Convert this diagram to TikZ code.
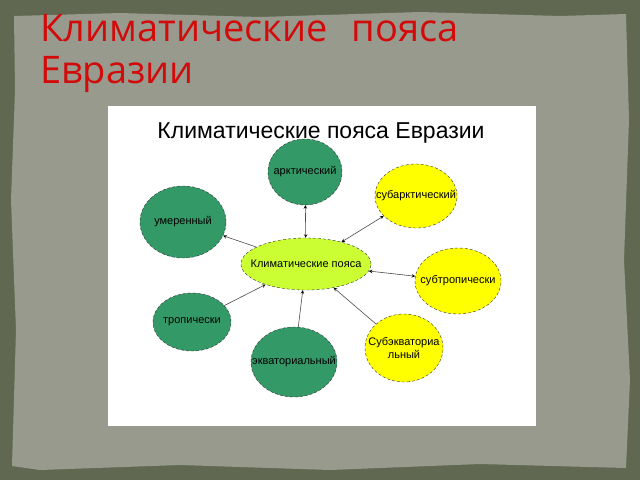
\documentclass[tikz,border=0pt]{standalone}
\usepackage{fontspec}
\setmainfont{Liberation Sans}
\newfontfamily\headfont{Open Sans}
\usetikzlibrary{shapes.geometric,arrows}
\definecolor{olive}{RGB}{96,104,82}
\definecolor{paper}{RGB}{152,154,142}
\definecolor{titlered}{RGB}{210,10,10}
\definecolor{zonegreen}{RGB}{51,153,102}
\definecolor{zoneyellow}{RGB}{255,255,0}
\definecolor{hubgreen}{RGB}{204,255,51}
\begin{document}
\begin{tikzpicture}[x=1pt,y=-1pt]
    \tikzstyle{link} = [draw=black!70,semithick,-stealth]
       \tikzset{zone/.style = {ellipse, draw=black!80, densely dashed, inner sep=0pt, label={[font=\fontsize{11}{13}\selectfont, align=center]center:#1}}, }
       \tikzset{cold/.style = {zone=#1, fill=zonegreen}, }
       \tikzset{warm/.style = {zone=#1, fill=zoneyellow}, }
       \tikzset{heading/.style = {anchor=base west, text=titlered, font=\headfont\fontsize{38}{44}\selectfont, inner sep=0pt}, }
       \useasboundingbox (0,0) rectangle (640,480);
       % background
       \fill[olive] (0,0) rectangle (640,480);
       \fill[paper] (14,16) -- (120,13) -- (260,17) -- (420,12) -- (560,16) -- (626,14)
          -- (629,120) -- (624,260) -- (630,380) -- (626,468) -- (480,464) -- (330,470)
          -- (180,465) -- (40,470) -- (12,466) -- (16,330) -- (11,200) -- (15,90) -- cycle;
       \fill[white] (108,106) rectangle (536,426);
       \node[heading] (title) at (40,41) {Климатические\hspace{24pt}пояса};
       \node[heading] (title2) at (40,83) {Евразии};
       \node[anchor=base, font=\fontsize{23}{27}\selectfont, inner sep=0pt] (subtitle) at (321,138) {Климатические пояса Евразии};
       \node[zone=Климатические пояса, fill=hubgreen, minimum width=130pt, minimum height=52pt] (hub) at (306,264) {};
       \node[cold=арктический, minimum width=74pt, minimum height=66pt] (arctic) at (305,172) {};
       \node[warm=субарктический, minimum width=82pt, minimum height=64pt] (subarctic) at (416,196) {};
       \node[cold=умеренный, minimum width=86pt, minimum height=72pt] (temperate) at (183,222) {};
       \node[warm=субтропически, minimum width=86pt, minimum height=66pt] (subtropic) at (458,281) {};
       \node[cold=тропически, minimum width=78pt, minimum height=58pt] (tropic) at (192,322) {};
       \node[cold=экваториальный, minimum width=86pt, minimum height=70pt] (equator) at (294,362) {};
       \node[warm={Субэкваториа\\льный}, minimum width=78pt, minimum height=68pt] (subequator) at (404,348) {};

       \path[link]
       (hub) edge[stealth-stealth] (arctic)
       (hub) edge[stealth-stealth] (subarctic)
       (hub) edge[stealth-stealth] (subtropic)
       (hub) edge (temperate)
       (tropic) edge (hub)
       (equator) edge (hub)
       (subequator) edge (hub);

\end{tikzpicture}
\end{document}
